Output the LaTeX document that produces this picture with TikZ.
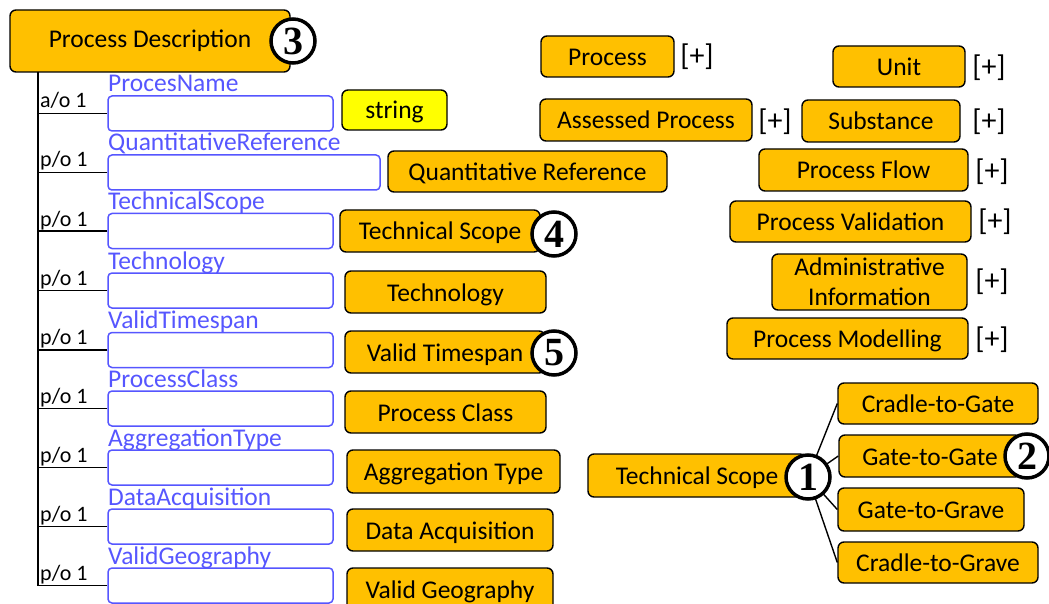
\documentclass[tikz,border=0pt]{standalone}
\usepackage{fontspec}
\setmainfont{Carlito}
\newfontfamily\numfont{Liberation Serif}
\definecolor{gold}{HTML}{FFC000}
\definecolor{lblue}{HTML}{5656FF}
\definecolor{yel}{HTML}{FFFF00}
\begin{document}
\begin{tikzpicture}[x=1pt,y=-1pt,
  obox/.style={draw=black, fill=gold, rounded corners=6pt, line width=1.4pt, inner sep=0pt,
    font=\fontsize{25.5}{30}\selectfont, text height=21pt, text depth=3pt, minimum height=42pt},
  fbox/.style={draw=lblue, rounded corners=4pt, line width=1.5pt, minimum width=225pt, minimum height=35pt, inner sep=0pt},
  flabel/.style={text=lblue, anchor=base west, inner sep=0pt, font=\fontsize{25.5}{30}\selectfont},
  card/.style={anchor=base west, inner sep=0pt, font=\fontsize{22}{26}\selectfont},
  num/.style={circle, draw=black, fill=white, line width=3.5pt, minimum size=44pt, inner sep=0pt,
    font=\numfont\bfseries\fontsize{40}{40}\selectfont},
  plus/.style={inner sep=0pt, font=\fontsize{30}{34}\selectfont},
  branch/.style={line width=1.8pt},
  link/.style={line width=1.4pt}]
\useasboundingbox (0,0) rectangle (1049,604);

% Process Description header
\node[obox, minimum width=280pt, minimum height=62pt, text height=19pt, text depth=5pt] (pd) at (150,41) {Process Description};
\node[num] (n3) at (293,41) {3};

% trunk
\coordinate (ttop) at (38,72);
\coordinate (tbot) at (38,585.5);
\draw[line width=2.6pt] (ttop) -- (tbot);

% field boxes
\node[fbox] (b1) at (220.5,113.5) {};
\node[fbox, minimum width=272pt] (b2) at (244,172.5) {};
\node[fbox] (b3) at (220.5,231) {};
\node[fbox] (b4) at (220.5,290.5) {};
\node[fbox] (b5) at (220.5,350) {};
\node[fbox] (b6) at (220.5,408.5) {};
\node[fbox] (b7) at (220.5,467.5) {};
\node[fbox] (b8) at (220.5,526.5) {};
\node[fbox] (b9) at (220.5,585.5) {};

% field labels
\node[flabel] (l1) at (108,92) {ProcesName};
\node[flabel] (l2) at (108,151) {QuantitativeReference};
\node[flabel] (l3) at (108,210) {TechnicalScope};
\node[flabel] (l4) at (108,269) {Technology};
\node[flabel] (l5) at (108,328) {ValidTimespan};
\node[flabel] (l6) at (108,387) {ProcessClass};
\node[flabel] (l7) at (108,446) {AggregationType};
\node[flabel] (l8) at (108,505) {DataAcquisition};
\node[flabel] (l9) at (108,564) {ValidGeography};

% branches and cardinalities
\foreach \b in {b1,b2,b3,b4,b5,b6,b7,b8,b9}{
  \draw[branch] (\b.west) -- (\b.west -| ttop);
}
\node[card] (c1) at (40,108) {a/o 1};
\node[card] (c2) at (40,167) {p/o 1};
\node[card] (c3) at (40,226) {p/o 1};
\node[card] (c4) at (40,285) {p/o 1};
\node[card] (c5) at (40,344) {p/o 1};
\node[card] (c6) at (40,403) {p/o 1};
\node[card] (c7) at (40,462) {p/o 1};
\node[card] (c8) at (40,521) {p/o 1};
\node[card] (c9) at (40,580) {p/o 1};

% type boxes
\node[obox, fill=yel, minimum width=105pt, minimum height=40pt] (str) at (394.5,110) {string};
\node[obox, minimum width=279pt, minimum height=41pt] (qr) at (527.5,171.5) {Quantitative Reference};
\node[obox, minimum width=200pt] (ts) at (440,231) {Technical Scope};
\node[num] (n4) at (554,234) {4};
\node[obox, minimum width=201pt] (tech) at (445.5,292) {Technology};
\node[obox, minimum width=200pt] (vt) at (445,352) {Valid Timespan};
\node[num] (n5) at (554,353) {5};
\node[obox, minimum width=201pt] (pc) at (445.5,412) {Process Class};
\node[obox, minimum width=213pt, minimum height=43pt] (agg) at (453.5,471.5) {Aggregation Type};
\node[obox, minimum width=206pt] (da) at (450,530) {Data Acquisition};
\node[obox, minimum width=206pt] (vg) at (450,589) {Valid Geography};

% top right types
\node[obox, minimum width=133pt, minimum height=41pt] (proc) at (607.5,56.5) {Process};
\node[plus] (p1) at (697,57) {[+]};
\node[obox, minimum width=132pt, minimum height=41pt] (unit) at (899,66.5) {Unit};
\node[plus] (p2) at (989,68) {[+]};
\node[obox, minimum width=212pt] (ap) at (646,120) {Assessed Process};
\node[plus] (p3) at (775,122) {[+]};
\node[obox, minimum width=158pt] (sub) at (881,121) {Substance};
\node[plus] (p4) at (989,122) {[+]};
\node[obox, minimum width=209pt] (pf) at (863.5,170) {Process Flow};
\node[plus] (p5) at (992,172) {[+]};
\node[obox, minimum width=241pt, minimum height=41pt] (pv) at (850.5,221.5) {Process Validation};
\node[plus] (p6) at (995,222) {[+]};
\node[obox, minimum width=195pt, minimum height=56pt, align=center, text height=, text depth=, font=\fontsize{25.5}{30}\selectfont] (ai) at (869.5,282) {Administrative\\Information};
\node[plus] (p7) at (992,282) {[+]};
\node[obox, minimum width=241pt, minimum height=41pt] (pm) at (847.5,338.5) {Process Modelling};
\node[plus] (p8) at (992,340) {[+]};

% technical scope tree
\node[obox, minimum width=218pt, minimum height=43pt] (tsr) at (697,475.5) {Technical Scope};
\node[obox, minimum width=200pt, minimum height=41pt] (cg) at (938,403.5) {Cradle-to-Gate};
\node[obox, minimum width=182pt] (gg) at (930,456) {Gate-to-Gate};
\node[obox, minimum width=186pt, minimum height=43pt] (ggr) at (931,509.5) {Gate-to-Grave};
\node[obox, minimum width=200pt, minimum height=41pt] (cgr) at (938,562.5) {Cradle-to-Grave};
\coordinate (hub) at (808,477);
\foreach \t in {cg,gg,ggr,cgr}{
  \draw[link] (hub) -- (\t.west);
}
\node[num] (n1) at (hub) {1};
\node[num] (n2) at (1027,456) {2};
\end{tikzpicture}
\end{document}
